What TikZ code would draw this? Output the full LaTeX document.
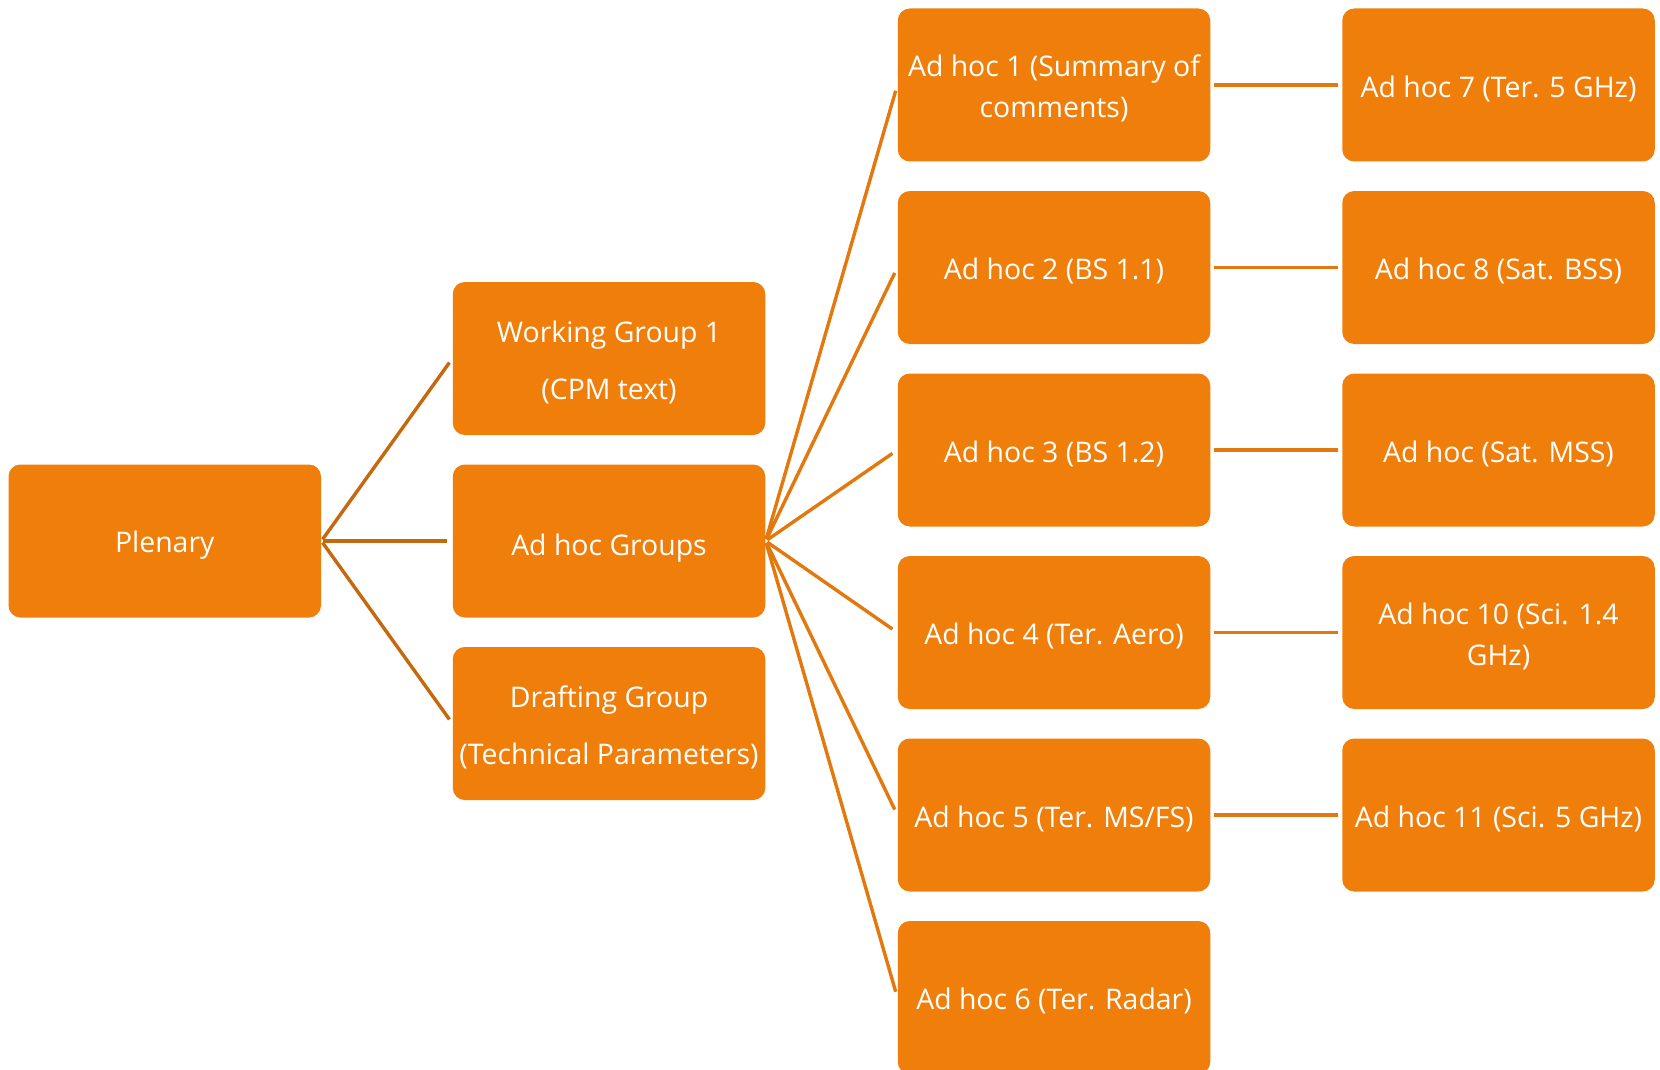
\documentclass[tikz,border=0pt]{standalone}
\usepackage{fontspec}
\setmainfont{Open Sans}
\definecolor{boxorange}{RGB}{239,127,10}
\definecolor{lineleft}{RGB}{197,104,14}
\definecolor{lineright}{RGB}{226,120,14}
\begin{document}
\begin{tikzpicture}[x=0.5pt,y=-0.5pt,
  box/.style={fill=boxorange, draw=none, rounded corners=6pt, minimum width=156.25pt, minimum height=76.5pt, inner sep=0pt},
  txt/.style={text=white, align=center, inner sep=0pt, font=\fontsize{14.2}{20.5}\selectfont, yshift=-1.9pt},
  widetxt/.style={txt, font=\fontsize{14.2}{28.5}\selectfont},
  linkL/.style={draw=lineleft, line width=1.7pt, shorten <=1pt, shorten >=2.5pt},
  linkR/.style={draw=lineright, line width=1.7pt, shorten <=1pt, shorten >=3pt},
  linkH/.style={draw=lineright, line width=1.7pt, shorten <=1.5pt, shorten >=2pt}]
\useasboundingbox (0,0) rectangle (1660,1070);
\clip (0,0) rectangle (1660,1070);
\node[box, label={[txt]center:Plenary}] (plen) at (164.75,541) {};
\node[box, label={[widetxt]center:{Working Group 1\\(CPM text)}}] (wg) at (609,358.5) {};
\node[box, label={[txt, yshift=-1.6pt]center:{Ad hoc Groups}}] (ahg) at (609,541) {};
\node[box, label={[widetxt]center:{Drafting Group\\(Technical Parameters)}}] (dg) at (609,723.5) {};
\node[box, label={[txt]center:{Ad hoc 1 (Summary of\\comments)}}] (a1) at (1054,85) {};
\node[box, label={[txt]center:{Ad hoc 2 (BS 1.1)}}] (a2) at (1054,267.5) {};
\node[box, label={[txt]center:{Ad hoc 3 (BS 1.2)}}] (a3) at (1054,450) {};
\node[box, label={[txt]center:{Ad hoc 4 (Ter. Aero)}}] (a4) at (1054,632.5) {};
\node[box, label={[txt]center:{Ad hoc 5 (Ter. MS/FS)}}] (a5) at (1054,815) {};
\node[box, label={[txt]center:{Ad hoc 6 (Ter. Radar)}}] (a6) at (1054,997.5) {};
\node[box, label={[txt]center:{Ad hoc 7 (Ter. 5 GHz)}}] (a7) at (1498.5,85) {};
\node[box, label={[txt]center:{Ad hoc 8 (Sat. BSS)}}] (a8) at (1498.5,267.5) {};
\node[box, label={[txt]center:{Ad hoc (Sat. MSS)}}] (a9) at (1498.5,450) {};
\node[box, label={[txt]center:{Ad hoc 10 (Sci. 1.4\\GHz)}}] (a10) at (1498.5,632.5) {};
\node[box, label={[txt]center:{Ad hoc 11 (Sci. 5 GHz)}}] (a11) at (1498.5,815) {};
\foreach \t in {wg,ahg,dg} \draw[linkL] (plen.east) -- (\t.west);
\foreach \t in {a1,a2,a3,a4,a5,a6} \draw[linkR] (ahg.east) -- (\t.west);
\draw[linkH] (a1.east) -- (a7.west);
\draw[linkH] (a2.east) -- (a8.west);
\draw[linkH] (a3.east) -- (a9.west);
\draw[linkH] (a4.east) -- (a10.west);
\draw[linkH] (a5.east) -- (a11.west);
\end{tikzpicture}
\end{document}
